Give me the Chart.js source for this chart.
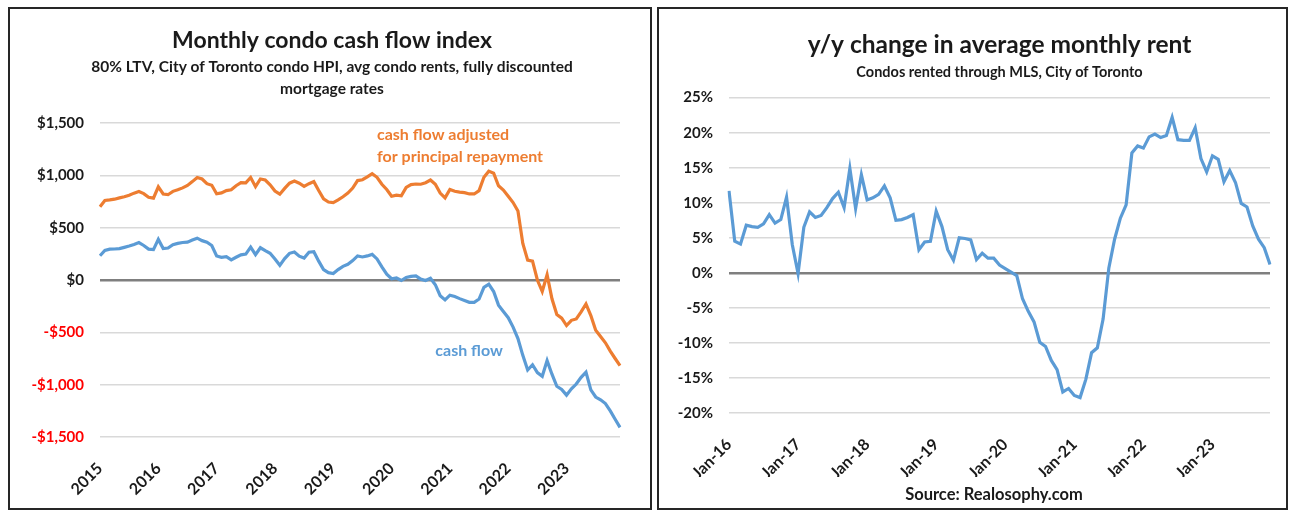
<!DOCTYPE html>
<html>
<head>
<meta charset="utf-8">
<title>Toronto condo cash flow and rent change</title>
<script src="https://cdn.jsdelivr.net/npm/chart.js@4.4.0/dist/chart.umd.min.js"></script>
<style>
    body { margin: 0; width: 1290px; height: 510px; background: #fff; position: relative; overflow: hidden; font-family: Lato, sans-serif; }
    .frame { position: absolute; border: 2px solid #262626; box-sizing: border-box; }
    #frame-left { left: 8px; top: 7px; width: 644px; height: 503px; }
    #frame-right { left: 657px; top: 7px; width: 631px; height: 503px; }
    canvas { position: absolute; }
    #cf-chart { left: 10px; top: 10px; }
    #rent-chart { left: 660px; top: 10px; }
    #source { position: absolute; left: 874px; top: 484px; width: 240px; line-height: 20px; text-align: center; font: bold 16.5px Lato, sans-serif; color: #1a1a1a; }
</style>
</head>
<body>
<div class="frame" id="frame-left"></div>
<div class="frame" id="frame-right"></div>
<canvas id="cf-chart" width="640" height="497"></canvas>
<canvas id="rent-chart" width="625" height="497"></canvas>
<div id="source">Source: Realosophy.com</div>

<script>
// --- DATA ---
// left chart: monthly, Jan 2015 .. Dec 2023
const cfYears = ['2015', '2016', '2017', '2018', '2019', '2020', '2021', '2022', '2023'];
const cfMonths = [];
cfYears.forEach(y => { for (let m = 1; m <= 12; m++) cfMonths.push(y + '-' + String(m).padStart(2, '0')); });

const cashFlowAdjusted = [
    700, 760, 765, 772, 785, 796, 810, 830, 845, 825, 790, 782,
    890, 822, 815, 847, 862, 880, 903, 940, 980, 965, 920, 905,
    824, 832, 854, 862, 901, 930, 928, 980, 892, 965, 955, 910,
    850, 820, 875, 925, 945, 925, 895, 920, 940, 855, 775, 745,
    740, 765, 795, 830, 878, 950, 958, 985, 1015, 981, 915, 865,
    800, 810, 805, 885, 911, 917, 915, 930, 955, 915, 830, 785,
    865, 848, 840, 835, 822, 822, 854, 981, 1040, 1020, 900, 860,
    800, 740, 660, 350, 190, 180, 0, -110, 50, -180, -330, -365,
    -435, -385, -372, -305, -229, -340, -480, -540, -600, -680, -750, -819
];
const cashFlow = [
    232, 282, 295, 296, 300, 312, 325, 340, 358, 330, 295, 290,
    388, 300, 306, 338, 350, 358, 362, 382, 400, 376, 362, 330,
    230, 217, 222, 192, 217, 240, 248, 315, 242, 308, 280, 255,
    200, 140, 205, 255, 268, 228, 210, 265, 270, 180, 100, 70,
    62, 100, 130, 150, 185, 230, 220, 230, 245, 201, 125, 55,
    12, 19, -5, 25, 35, 40, 8, -5, 17, -45, -150, -190,
    -145, -158, -178, -195, -213, -213, -182, -70, -40, -110, -240, -300,
    -360, -450, -560, -720, -860, -810, -885, -920, -770, -900, -1015, -1045,
    -1100, -1040, -994, -930, -880, -1050, -1118, -1145, -1180, -1250, -1330, -1408
];

// right chart: monthly, Jan 2016 .. Nov 2023
const rentTicks = ['Jan-16', 'Jan-17', 'Jan-18', 'Jan-19', 'Jan-20', 'Jan-21', 'Jan-22', 'Jan-23'];
const rentMonths = [];
for (let y = 2016; y <= 2023; y++) for (let m = 1; m <= 12; m++) if (rentMonths.length < 95) rentMonths.push(y + '-' + String(m).padStart(2, '0'));

const rentChange = [
    11.7, 4.5, 4.1, 6.8, 6.6, 6.5, 7.0, 8.3, 7.1, 7.6, 10.8, 4.0,
    -0.1, 6.5, 8.7, 7.9, 8.2, 9.3, 10.6, 11.5, 9.3, 14.9, 9.2, 14.0,
    10.4, 10.7, 11.2, 12.4, 10.7, 7.5, 7.6, 7.9, 8.3, 3.3, 4.4, 4.5,
    8.8, 6.6, 3.3, 1.8, 5.0, 4.9, 4.7, 1.9, 2.8, 2.1, 2.1, 1.1,
    0.6, 0.1, -0.4, -3.7, -5.5, -7.0, -9.9, -10.5, -12.5, -13.8, -17.0, -16.5,
    -17.5, -17.8, -15.2, -11.4, -10.7, -6.6, 0.7, 4.8, 7.8, 9.7, 17.1, 18.1,
    17.8, 19.4, 19.8, 19.3, 19.6, 22.2, 19.0, 18.9, 18.9, 20.7, 16.3, 14.4,
    16.7, 16.2, 13.0, 14.6, 12.9, 9.9, 9.4, 6.7, 4.8, 3.6, 1.2
];

// --- STYLE ---
const ORANGE = '#ED7D31';
const BLUE = '#5B9BD5';
const TEXT = '#1a1a1a';
const FONT = 'Lato, sans-serif';

// in-plot labels, placed through the scales
const cfNotes = [
    { lines: ['cash flow adjusted', 'for principal repayment'], index: 57, value: 1390, color: ORANGE },
    { lines: ['cash flow'], index: 69, value: -676, color: BLUE }
];

const notesPlugin = {
    id: 'notes',
    afterDatasetsDraw(chart, args, opts) {
        const { ctx, scales: { x, y } } = chart;
        ctx.save();
        ctx.font = 'bold 16px ' + FONT;
        ctx.textAlign = 'left';
        ctx.textBaseline = 'middle';
        (opts.items || []).forEach(n => {
            ctx.fillStyle = n.color;
            n.lines.forEach((t, i) => ctx.fillText(t, x.getPixelForValue(n.index), y.getPixelForValue(n.value) + i * 22));
        });
        ctx.restore();
    }
};

// y labels spill into the left layout padding, so widen the axis box they are clipped to
const wideYLabels = { id: 'wideYLabels', afterLayout: chart => { chart.scales.y.left = 0; } };

const gridColor = c => c.tick && c.tick.value === 0 ? '#7f7f7f' : '#d9d9d9';
const gridWidth = c => c.tick && c.tick.value === 0 ? 2.5 : 1.5;
const tickFont = { family: FONT, size: 15, weight: 'bold' };
const xTickFont = { family: FONT, size: 16, weight: 'bold' };

// --- LEFT CHART ---
// equal-ish side padding keeps the titles centred on the panel
new Chart(document.getElementById('cf-chart'), {
    type: 'line',
    data: {
        labels: cfMonths,
        datasets: [
            { label: 'cash flow adjusted for principal repayment', data: cashFlowAdjusted, borderColor: ORANGE, borderWidth: 3.2, pointRadius: 0, tension: 0 },
            { label: 'cash flow', data: cashFlow, borderColor: BLUE, borderWidth: 3.2, pointRadius: 0, tension: 0 }
        ]
    },
    options: {
        responsive: false, animation: false, events: [],
        layout: { padding: { left: 34, right: 30, top: 0, bottom: 0 } },
        scales: {
            x: {
                grid: { display: false }, border: { display: false },
                afterFit: s => { s.height = 70; s.paddingRight = 0; s.paddingLeft = 0; },
                ticks: {
                    autoSkip: false, minRotation: 45, maxRotation: 45, padding: 14, color: TEXT, font: xTickFont,
                    callback: (v, i) => i % 12 === 0 ? cfYears[i / 12] : ''
                }
            },
            y: {
                min: -1500, max: 1500,
                border: { display: false },
                afterFit: s => { s.width = 56; },
                grid: { color: gridColor, lineWidth: gridWidth, drawTicks: false },
                ticks: {
                    stepSize: 500, padding: 16, font: tickFont,
                    color: c => c.tick.value < 0 ? '#ff0000' : TEXT,
                    callback: v => (v < 0 ? '-' : '') + '$' + Math.abs(v).toLocaleString('en-US')
                }
            }
        },
        plugins: {
            legend: { display: false },
            tooltip: { enabled: false },
            title: {
                display: true, text: 'Monthly condo cash flow index', color: TEXT,
                font: { family: FONT, size: 23, weight: 'bold' }, padding: { top: 17, bottom: 0 }
            },
            subtitle: {
                display: true, text: ['80% LTV, City of Toronto condo HPI, avg condo rents, fully discounted', 'mortgage rates'],
                color: TEXT, font: { family: FONT, size: 15.5, weight: 'bold', lineHeight: 1.4 }, padding: { top: 1.5, bottom: 23.5 }
            },
            notes: { items: cfNotes }
        }
    },
    plugins: [notesPlugin, wideYLabels]
});

// --- RIGHT CHART ---
new Chart(document.getElementById('rent-chart'), {
    type: 'line',
    data: {
        labels: rentMonths,
        datasets: [
            { label: 'y/y change in average monthly rent', data: rentChange, borderColor: BLUE, borderWidth: 3.2, pointRadius: 0, tension: 0 }
        ]
    },
    options: {
        responsive: false, animation: false, events: [],
        layout: { padding: { left: 0, right: 15, top: 0, bottom: 30 } },
        scales: {
            x: {
                grid: { display: false }, border: { display: false },
                afterFit: s => { s.height = 64; s.paddingRight = 0; },
                ticks: {
                    autoSkip: false, minRotation: 45, maxRotation: 45, padding: 14, color: TEXT, font: xTickFont,
                    callback: (v, i) => i % 12 === 0 ? rentTicks[i / 12] : ''
                }
            },
            y: {
                min: -20, max: 25,
                border: { display: false },
                afterFit: s => { s.width = 69; },
                grid: { color: gridColor, lineWidth: gridWidth, drawTicks: false },
                ticks: {
                    stepSize: 5, padding: 16, color: TEXT, font: tickFont,
                    callback: v => v + '%'
                }
            }
        },
        plugins: {
            legend: { display: false },
            tooltip: { enabled: false },
            title: {
                display: true, fullSize: false, text: 'y/y change in average monthly rent', color: TEXT,
                font: { family: FONT, size: 24.5, weight: 'bold' }, padding: { top: 20, bottom: 0 }
            },
            subtitle: {
                display: true, fullSize: false, text: 'Condos rented through MLS, City of Toronto',
                color: TEXT, font: { family: FONT, size: 14.5, weight: 'bold', lineHeight: 1.5 }, padding: { top: 2.5, bottom: 14 }
            }
        }
    }
});
</script>
</body>
</html>
